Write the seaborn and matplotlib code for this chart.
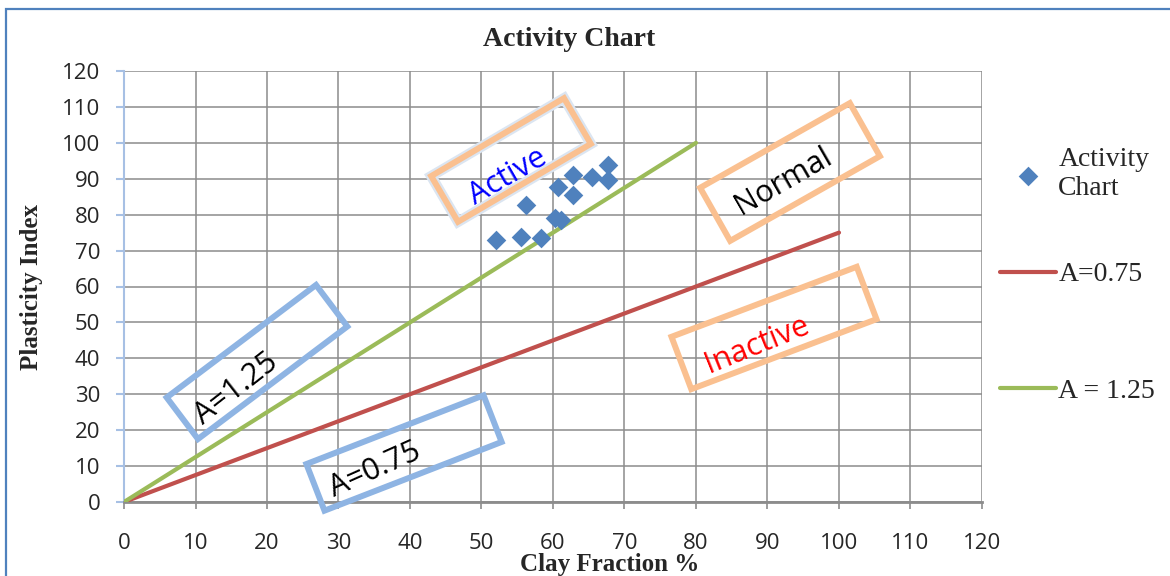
import matplotlib
matplotlib.use("Agg")
import matplotlib.pyplot as plt
from matplotlib.patches import Rectangle
import seaborn as sns
import pandas as pd

# ---- data ----
clay_fraction = [52.0, 55.5, 58.3, 56.2, 60.3, 61.1, 60.7, 62.8, 62.8, 65.5, 67.7, 67.7]
plasticity_index = [73.0, 73.8, 73.5, 82.7, 79.1, 78.6, 87.7, 91.1, 85.5, 90.5, 93.9, 89.7]
a075_x = [0, 100]
a075_y = [0, 75]
a125_x = [0, 80]
a125_y = [0, 100]
ticks = list(range(0, 121, 10))

# annotation boxes: (label, text colour, box colour, box centre px, box w, box h, angle, text centre px, text angle)
annotations = [
    ("Active", "#0000ff", "#fac090", (511, 160), 154, 53, 30.4, (508, 177), 30),
    ("Normal", "#000000", "#fac090", (790, 172), 172, 61, 29.5, (783, 181), 30),
    ("Inactive", "#ff0000", "#fac090", (774, 328), 198, 56, 20.7, (757, 345), 22),
    ("A=1.25", "#000000", "#8eb4e3", (257, 362), 187, 52, 37.0, (236, 389), 38),
    ("A=0.75", "#000000", "#8eb4e3", (404, 453), 190, 50, 21.2, (375, 470), 24),
]

sns.set_style("white")
plt.rcParams["font.family"] = ["Open Sans", "DejaVu Sans"]

W, H = 1170, 576
fig = plt.figure(figsize=(W / 100, H / 100), dpi=100)
ax = fig.add_axes([124 / W, (H - 502) / H, 858 / W, 431 / H])

df_pts = pd.DataFrame({"x": clay_fraction, "y": plasticity_index})
sns.lineplot(x=a075_x, y=a075_y, ax=ax, color="#c0504d", lw=3, label="A=0.75", zorder=3)
sns.lineplot(x=a125_x, y=a125_y, ax=ax, color="#9bbb59", lw=3, label="A = 1.25", zorder=3)
sns.scatterplot(data=df_pts, x="x", y="y", ax=ax, marker="D", s=100, color="#4f81bd",
                linewidth=0, label="Activity\nChart", zorder=4)

ax.set_xlim(0, 120)
ax.set_ylim(0, 120)
ax.set_xticks(ticks)
ax.set_yticks(ticks)
ax.set_xlabel("")
ax.set_ylabel("")
ax.grid(True, color="#8c8c8c", lw=1.1)
ax.set_axisbelow(True)
for s in ["top", "right"]:
    ax.spines[s].set_visible(False)
ax.spines["bottom"].set_color("#8c8c8c")
ax.spines["bottom"].set_linewidth(2)
ax.spines["left"].set_color("#a7c0e4")
ax.spines["left"].set_linewidth(1.5)
ax.tick_params(axis="x", length=5, width=1.2, color="#8c8c8c", pad=17.5, labelsize=16, bottom=True)
ax.tick_params(axis="y", length=6, width=1.5, color="#a7c0e4", pad=11, labelsize=16, left=True)

# legend (two parts to match the spacing of the reference)
handles, labels = ax.get_legend_handles_labels()
hmap = dict(zip(labels, handles))
leg_prop = {"family": "Liberation Serif", "size": 20}
leg1 = ax.legend([hmap["Activity\nChart"]], ["Activity\nChart"],
                 loc="center left", bbox_to_anchor=(1000 / W, 1 - 174 / H),
                 bbox_transform=fig.transFigure, frameon=False, prop=leg_prop,
                 handlelength=2.0, handletextpad=0.1, borderaxespad=0, borderpad=0)
ax.add_artist(leg1)
ax.legend([hmap["A=0.75"], hmap["A = 1.25"]], ["A=0.75", "A = 1.25"],
          loc="center left", bbox_to_anchor=(1000 / W, 1 - 333 / H),
          bbox_transform=fig.transFigure, frameon=False, prop=leg_prop,
          labelspacing=3.28, handlelength=2.0, handletextpad=0.1, borderaxespad=0, borderpad=0)

# titles
fig.text(569 / W, 1 - 40 / H, "Activity Chart", ha="center", va="center",
         family="Liberation Serif", weight="bold", size=20)
fig.text(610 / W, 1 - 564 / H, "Clay Fraction %", ha="center", va="center",
         family="Liberation Serif", weight="bold", size=18)
fig.text(32 / W, 1 - 287 / H, "Plasticity Index", ha="center", va="center", rotation=90,
         family="Liberation Serif", weight="bold", size=18)

# annotation boxes, in pixel space
tr = fig.dpi_scale_trans
for label, tcol, bcol, (cx, cy), bw, bh, ang, (tx, ty), tang in annotations:
    cxi, cyi = cx / 100, (H - cy) / 100
    if label == "Active":
        halo = Rectangle((cxi - bw / 200, cyi - bh / 200), bw / 100, bh / 100, angle=ang,
                         rotation_point="center", transform=tr, fill=False,
                         edgecolor="#dbe5f1", lw=7.5, zorder=5)
        fig.add_artist(halo)
    rect = Rectangle((cxi - bw / 200, cyi - bh / 200), bw / 100, bh / 100, angle=ang,
                     rotation_point="center", transform=tr, fill=False,
                     edgecolor=bcol, lw=4.3, zorder=6)
    fig.add_artist(rect)
    fig.text(tx / 100, (H - ty) / 100, label, transform=tr, color=tcol, size=22,
             rotation=tang, rotation_mode="anchor", ha="center", va="center",
             family=["Open Sans", "DejaVu Sans"], zorder=7)

# outer border (top and left visible)
border = Rectangle((6 / 100, -0.5), 13, (H - 9) / 100 + 0.5, transform=tr, fill=False,
                   edgecolor="#4f81bd", lw=1.6, zorder=10)
fig.add_artist(border)

fig.savefig("out.png", dpi=100)
